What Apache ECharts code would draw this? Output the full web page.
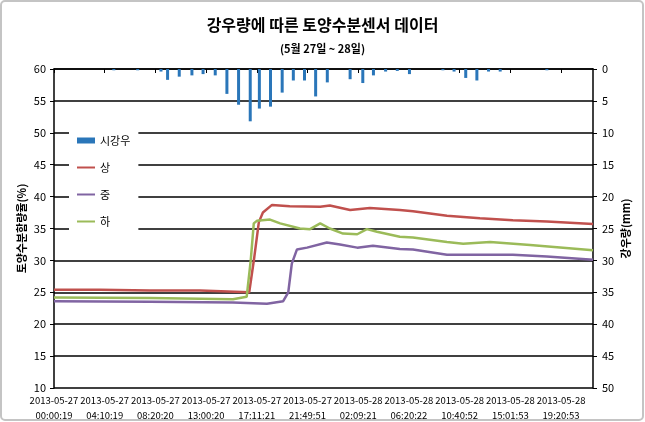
<!DOCTYPE html>
<html>
<head>
<meta charset="utf-8">
<script src="https://cdn.jsdelivr.net/npm/echarts@6/dist/echarts.min.js"></script>
<style>
  html, body { margin: 0; padding: 0; background: #fff; }
  #main { width: 645px; height: 422px; }
</style>
</head>
<body>
<div id="main"></div>
<script>
  // x 위치 = 눈금 라벨 번호 단위 (0 = 첫 라벨)
  var tickLabels = ['2013-05-27\n00:00:19', '2013-05-27\n04:10:19', '2013-05-27\n08:20:20',
    '2013-05-27\n13:00:20', '2013-05-27\n17:11:21', '2013-05-27\n21:49:51',
    '2013-05-28\n02:09:21', '2013-05-28\n06:20:22', '2013-05-28\n10:40:52',
    '2013-05-28\n15:01:53', '2013-05-28\n19:20:53'];

  // 시강우 (mm)
  var rainPos = [1.18, 1.65, 2.11, 2.24, 2.47, 2.72, 2.94, 3.18, 3.41, 3.64, 3.87, 4.05, 4.27, 4.50,
    4.72, 4.94, 5.16, 5.39, 5.84, 6.09, 6.30, 6.54, 6.77, 7.01, 7.67, 7.89, 8.12, 8.34, 8.57, 8.80, 9.72];
  var rainMm = [0.2, 0.2, 0.4, 1.7, 1.2, 1.0, 0.8, 1.0, 3.9, 5.6, 8.2, 6.2, 5.9, 3.7,
    1.8, 1.8, 4.3, 2.1, 1.6, 2.2, 1.0, 0.4, 0.3, 0.8, 0.2, 0.4, 1.4, 1.8, 0.4, 0.4, 0.2];

  // 토양수분 (%)
  var upper = [[0, 25.4], [0.91, 25.4], [1.89, 25.3], [2.88, 25.3], [3.57, 25.1], [3.85, 25.0],
    [3.95, 30.5], [4.04, 36.0], [4.12, 37.5], [4.3, 38.7], [4.65, 38.5], [5.25, 38.4], [5.44, 38.6],
    [5.84, 37.9], [6.23, 38.2], [6.82, 37.9], [7.08, 37.7], [7.75, 37.0], [8.40, 36.6], [9.05, 36.3],
    [9.72, 36.1], [10.63, 35.7]];
  var middle = [[0, 23.6], [1.89, 23.5], [3.53, 23.4], [4.20, 23.2], [4.52, 23.6], [4.62, 25.0],
    [4.69, 29.5], [4.79, 31.7], [4.99, 32.0], [5.38, 32.8], [5.64, 32.5], [5.98, 32.0], [6.29, 32.3],
    [6.82, 31.8], [7.08, 31.7], [7.75, 30.9], [8.40, 30.9], [9.05, 30.9], [9.72, 30.6], [10.63, 30.1]];
  var lower = [[0, 24.2], [1.89, 24.1], [3.53, 23.9], [3.80, 24.3], [3.88, 30.0], [3.94, 35.8],
    [4.0, 36.2], [4.26, 36.4], [4.46, 35.8], [4.85, 35.0], [5.05, 34.9], [5.25, 35.8], [5.44, 35.0],
    [5.70, 34.2], [5.98, 34.1], [6.17, 34.9], [6.37, 34.5], [6.82, 33.7], [7.08, 33.6], [7.75, 32.9],
    [8.07, 32.6], [8.60, 32.9], [9.39, 32.4], [10.63, 31.6]];

  var font = 'Noto Sans CJK KR';
  var lineIcon = 'path://M0,0H18V2H0Z';
  var rain = rainPos.map(function (p, i) { return [p, rainMm[i]]; });

  var myChart = echarts.init(document.getElementById('main'));
  myChart.setOption({
    animation: false,
    textStyle: {fontFamily: font, color: '#000'},
    graphic: [{
      type: 'rect', z: -1,
      shape: {x: 1, y: 1, width: 642, height: 419, r: 4},
      style: {fill: '#fff', stroke: '#c4c4c4', lineWidth: 2}
    }],
    title: [{
      text: '강우량에 따른 토양수분센서 데이터',
      left: 'center', top: 12,
      textStyle: {fontFamily: font, fontSize: 16, fontWeight: 'bold', color: '#000'}
    }, {
      text: '(5월 27일 ~ 28일)',
      left: 'center', top: 38,
      textStyle: {fontFamily: font, fontSize: 11, fontWeight: 'bold', color: '#000'}
    }],
    legend: {
      orient: 'vertical',
      left: 69, top: 130,
      padding: [5, 8],
      itemGap: 16,
      itemWidth: 18,
      itemHeight: 6,
      symbolKeepAspect: true,
      backgroundColor: '#fff',
      textStyle: {fontFamily: font, fontSize: 11, color: '#000'},
      data: [
        {name: '시강우', icon: 'rect'},
        {name: '상', icon: lineIcon},
        {name: '중', icon: lineIcon},
        {name: '하', icon: lineIcon}
      ]
    },
    grid: {left: 54, right: 52, top: 69, bottom: 34, outerBoundsMode: 'none'},
    xAxis: {
      type: 'value',
      min: 0, max: 10.63, interval: 1,
      axisLine: {lineStyle: {color: '#000', width: 1.5}},
      axisTick: {lineStyle: {color: '#000'}, length: 4},
      splitLine: {show: false},
      axisLabel: {
        fontFamily: font, fontSize: 9.5, color: '#000', lineHeight: 15, margin: 5,
        showMaxLabel: false,
        formatter: function (v) {
          return Number.isInteger(v) && tickLabels[v] ? tickLabels[v] : '';
        }
      }
    },
    yAxis: [{
      type: 'value',
      min: 10, max: 60, interval: 5,
      name: '토양수분함량율(%)',
      nameLocation: 'middle',
      nameGap: 27,
      nameMoveOverlap: false,
      nameTextStyle: {fontFamily: font, fontSize: 11, fontWeight: 'bold', color: '#000'},
      axisLine: {show: true, lineStyle: {color: '#000', width: 1.5}},
      axisTick: {show: true, length: 4, lineStyle: {color: '#000'}},
      axisLabel: {fontFamily: font, fontSize: 11, color: '#000', margin: 8},
      splitLine: {lineStyle: {color: '#000', width: 1.5}}
    }, {
      type: 'value',
      inverse: true,
      min: 0, max: 50, interval: 5,
      name: '강우량(mm)',
      nameLocation: 'middle',
      nameGap: 27,
      nameMoveOverlap: false,
      nameTextStyle: {fontFamily: font, fontSize: 11, fontWeight: 'bold', color: '#000'},
      axisLine: {show: true, lineStyle: {color: '#000', width: 1.5}},
      axisTick: {show: true, length: 4, lineStyle: {color: '#000'}},
      axisLabel: {fontFamily: font, fontSize: 11, color: '#000', margin: 9},
      splitLine: {show: false}
    }],
    series: [{
      name: '시강우',
      type: 'bar',
      yAxisIndex: 1,
      barWidth: 3,
      itemStyle: {color: '#2a76b9'},
      data: rain
    }, {
      name: '상',
      type: 'line',
      symbol: 'none',
      lineStyle: {color: '#c0504d', width: 2.5},
      itemStyle: {color: '#c0504d'},
      data: upper
    }, {
      name: '중',
      type: 'line',
      symbol: 'none',
      lineStyle: {color: '#8064a2', width: 2.5},
      itemStyle: {color: '#8064a2'},
      data: middle
    }, {
      name: '하',
      type: 'line',
      symbol: 'none',
      lineStyle: {color: '#9bbb59', width: 2.5},
      itemStyle: {color: '#9bbb59'},
      data: lower
    }]
  });
</script>
</body>
</html>
